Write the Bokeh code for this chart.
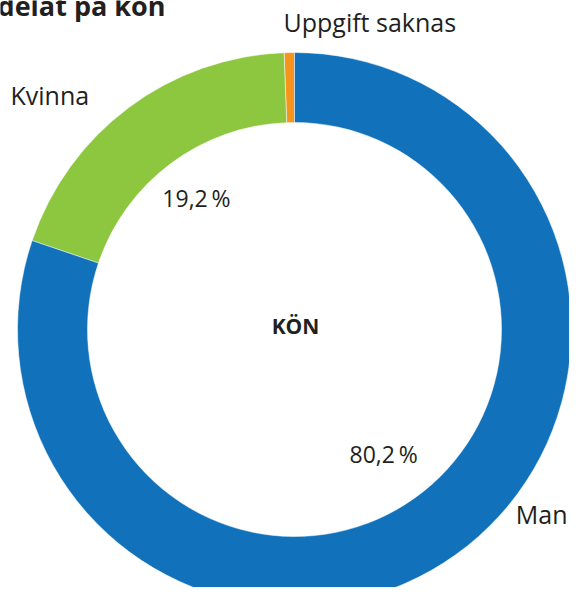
import math
from bokeh.plotting import figure
from bokeh.models import ColumnDataSource, Range1d
from bokeh.core.properties import value
from bokeh.embed import file_html
from bokeh.resources import INLINE

# ---- data ----
categories = ["Uppgift saknas", "Kvinna", "Man"]
shares = [0.6, 19.2, 80.2]
pct_labels = ["", "19,2\u2009%", "80,2\u2009%"]
colors = ["#F7941D", "#8DC63F", "#1172BB"]
title_text = "Antal fördelat på kön"
center_text = "KÖN"

# ---- layout (pixel units) ----
W, H = 569, 587
cx, cy = 294, 258
r_out, r_in = 277, 207
pct_radius = [0, 164, 153]
FONT = "Open Sans"
TXT = "#231F20"

# outer label anchors relative to centre: (dx, dy, align)
outer_label_layout = [(-11, 308, "left"), (-284, 235, "left"), (273, -184, "right")]

total = sum(shares)
starts, ends, mids = [], [], []
a = math.pi / 2
for s in shares:
    span = s / total * 2 * math.pi
    starts.append(a)
    ends.append(a + span)
    mids.append(a + span / 2)
    a += span

src = ColumnDataSource(dict(cat=categories, start=starts, end=ends, color=colors))

p = figure(width=W, height=H, output_backend="svg", toolbar_location=None,
           x_range=Range1d(0, W), y_range=Range1d(0, H), min_border=0)
p.axis.visible = False
p.grid.visible = False
p.outline_line_color = None
p.background_fill_color = "white"

p.annular_wedge(x=cx, y=cy, inner_radius=r_in, outer_radius=r_out,
                start_angle="start", end_angle="end", fill_color="color",
                line_color="white", line_width=0.5, source=src)

# percentage labels inside ring
px = [cx + r * math.cos(m) for r, m in zip(pct_radius, mids)]
py = [cy + r * math.sin(m) for r, m in zip(pct_radius, mids)]
p.text(x=px, y=py, text=pct_labels, text_font=value(FONT), text_font_size="23px",
       text_color=TXT, text_align="center", text_baseline="middle")

# outer category labels
for cat, (dx, dy, al) in zip(categories, outer_label_layout):
    p.text(x=[cx + dx], y=[cy + dy], text=[cat], text_font=value(FONT),
           text_font_size="25px", text_color=TXT, text_align=al,
           text_baseline="middle")

# centre label
p.text(x=[cx + 1], y=[cy + 4], text=[center_text], text_font=value(FONT),
       text_font_size="21px", text_font_style="bold", text_color=TXT,
       text_align="center", text_baseline="middle")

# title (cropped at top-left like the reference)
p.text(x=[165], y=[582], text=[title_text], text_font=value(FONT),
       text_font_size="27px", text_font_style="bold", text_color=TXT,
       text_align="right", text_baseline="alphabetic")

open("out.html", "w").write(file_html(p, INLINE))
